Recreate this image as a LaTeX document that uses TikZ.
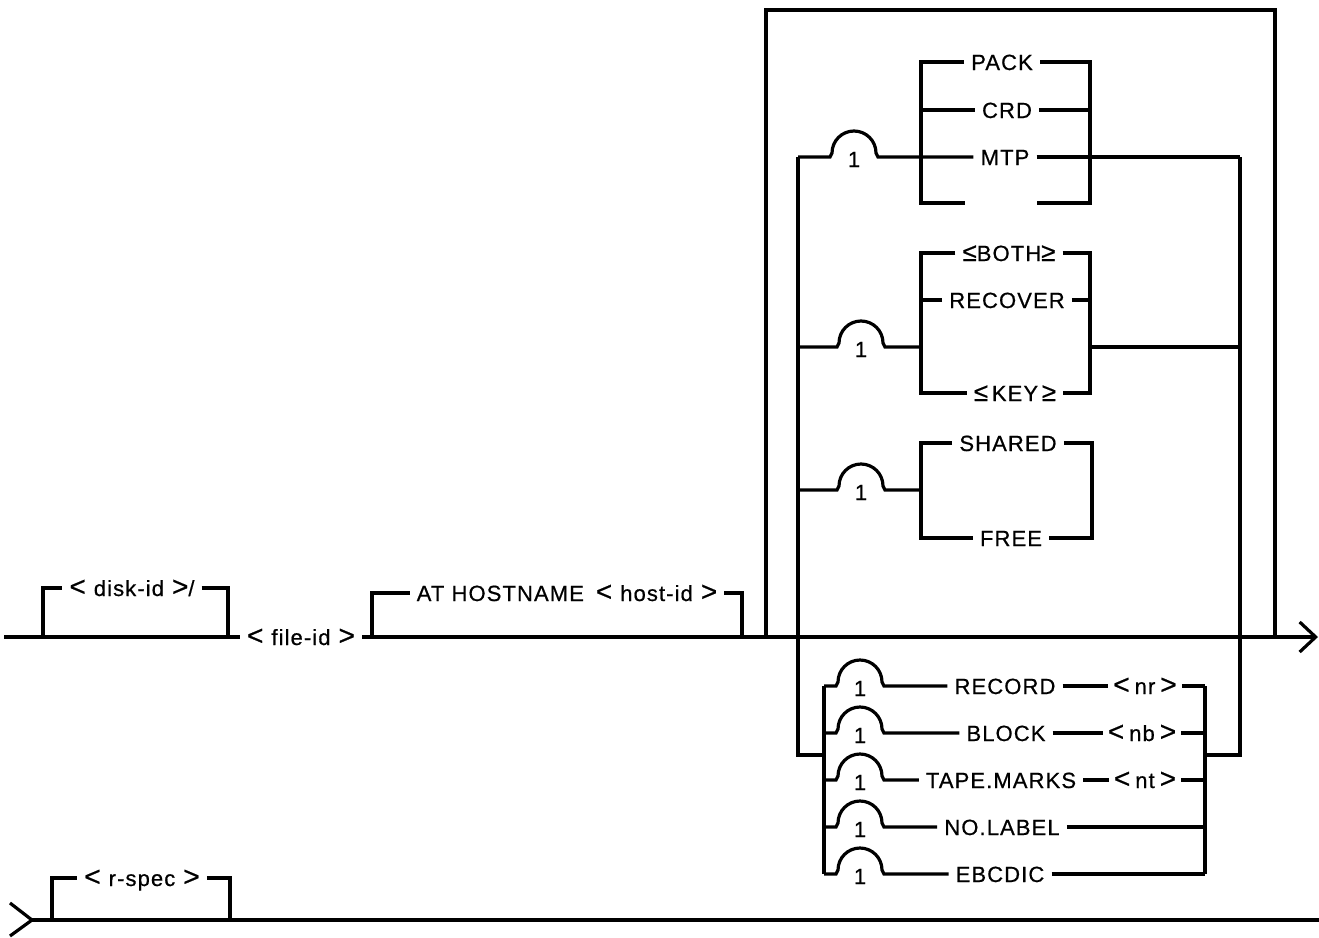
\documentclass[tikz,border=0pt]{standalone}
\usepackage{fontspec}
\setmainfont{Liberation Sans}[LetterSpace=5,FakeBold=0.6]
\usetikzlibrary{arrows.meta}
\newcommand{\railLT}{{\fontsize{28}{28}\selectfont<}}
\newcommand{\railGT}{{\fontsize{28}{28}\selectfont>}}
\newcommand{\railLE}{{\fontsize{26}{26}\selectfont≤}}
\newcommand{\railGE}{{\fontsize{26}{26}\selectfont≥}}
\newcommand{\railsp}{\hspace{8pt}}
\begin{document}
\begin{tikzpicture}[x=1pt,y=-1pt,
  rail/.style={line width=3.2pt,line join=miter},
  lbl/.style={inner xsep=7pt,inner ysep=0pt,text height=16pt,text depth=0pt,font=\fontsize{22}{26}\selectfont},
  idl/.style={lbl,font=\fontsize{22}{26}\selectfont},
  one/.style={inner sep=0pt,text height=16pt,text depth=0pt,font=\fontsize{22}{24}\selectfont},
  hump/.style={insert path={-- ++(2,-4) arc[start angle=180,end angle=0,radius=22pt] -- ++(2,4)}}]
\useasboundingbox (0,0) rectangle (1319,937);

% ---------- main line texts ----------
\node[idl] (disk) at (132,588) {\railLT\railsp disk-id\railsp\railGT/};
\node[idl] (fileid) at (301,637) {\railLT\railsp file-id\railsp\railGT};
\node[lbl] (host) at (567,593) {AT HOSTNAME\hspace{12pt}\railLT\railsp host-id\railsp\railGT};

% main line
\coordinate (mstart) at (4,637);
\coordinate (mend) at (1318,637);
\draw[rail] (mstart) -- (fileid.west);
\draw[rail,-{Straight Barb[length=16pt,width=30pt]}] (fileid.east) -- (mend);

% disk-id bracket
\coordinate (dk1) at (43,637); \coordinate (dk2) at (43,588);
\coordinate (dk3) at (228,588); \coordinate (dk4) at (228,637);
\draw[rail] (dk1) -- (dk2) -- (disk.west);
\draw[rail] (disk.east) -- (dk3) -- (dk4);

% host bracket
\coordinate (hs1) at (372,637); \coordinate (hs2) at (372,593);
\coordinate (hs3) at (742,593); \coordinate (hs4) at (742,637);
\draw[rail] (hs1) -- (hs2) -- (host.west);
\draw[rail] (host.east) -- (hs3) -- (hs4);

% outer repeat box
\coordinate (ob1) at (766,637); \coordinate (ob2) at (766,10);
\coordinate (ob3) at (1275,10); \coordinate (ob4) at (1275,637);
\draw[rail] (ob1) -- (ob2) -- (ob3) -- (ob4);

% inner loop
\coordinate (ll1) at (798,157); \coordinate (ll2) at (798,755); \coordinate (ll3) at (824,755);
\coordinate (lr1) at (1240,157); \coordinate (lr2) at (1240,755); \coordinate (lr3) at (1205,755);
\draw[rail] (ll1) -- (ll2) -- (ll3);
\draw[rail] (lr1) -- (lr2) -- (lr3);

% ---------- group 1 : PACK / CRD / MTP ----------
\node[lbl] (pack) at (1002,62) {PACK};
\node[lbl] (crd) at (1007,110) {CRD};
\node[lbl] (mtp) at (1005,157) {MTP};
\node[lbl,minimum width=72pt] (blank) at (1001,203) {};
\coordinate (p1) at (921,62); \coordinate (p2) at (921,203);
\coordinate (p3) at (1090,62); \coordinate (p4) at (1090,203);
\draw[rail] (pack.west) -- (p1) -- (p2) -- (blank.west);
\draw[rail] (pack.east) -- (p3) -- (p4) -- (blank.east);
\draw[rail] (crd.west) -- (crd.west -| p1);
\draw[rail] (crd.east) -- (crd.east -| p3);
\coordinate (h1s) at (830,157);
\node[one] (one1) at (854,159) {1};
\draw[rail] (ll1) -- (h1s) [hump] -- (mtp.west);
\draw[rail] (mtp.east) -- (lr1);

% ---------- group 2 : BOTH / RECOVER / KEY ----------
\node[lbl] (both) at (1009,253) {\railLE BOTH\railGE};
\node[lbl] (recover) at (1007,300) {RECOVER};
\node[lbl] (key) at (1015,393) {\railLE\,KEY\,\railGE};
\coordinate (q1) at (921,253); \coordinate (q2) at (921,393);
\coordinate (q3) at (1090,253); \coordinate (q4) at (1090,393);
\draw[rail] (both.west) -- (q1) -- (q2) -- (key.west);
\draw[rail] (both.east) -- (q3) -- (q4) -- (key.east);
\draw[rail] (recover.west) -- (recover.west -| q1);
\draw[rail] (recover.east) -- (recover.east -| q3);
\coordinate (r2l) at (798,347); \coordinate (h2s) at (837,347);
\coordinate (r2b) at (921,347); \coordinate (r2c) at (1090,347); \coordinate (r2r) at (1240,347);
\node[one] (one2) at (861,349) {1};
\draw[rail] (r2l) -- (h2s) [hump] -- (r2b);
\draw[rail] (r2c) -- (r2r);

% ---------- group 3 : SHARED / FREE ----------
\node[lbl] (shared) at (1008,443) {SHARED};
\node[lbl] (free) at (1011,538) {FREE};
\coordinate (s1) at (921,443); \coordinate (s2) at (921,538);
\coordinate (s3) at (1092,443); \coordinate (s4) at (1092,538);
\draw[rail] (shared.west) -- (s1) -- (s2) -- (free.west);
\draw[rail] (shared.east) -- (s3) -- (s4) -- (free.east);
\coordinate (r3l) at (798,490); \coordinate (h3s) at (837,490); \coordinate (r3b) at (921,490);
\node[one] (one3) at (861,492) {1};
\draw[rail] (r3l) -- (h3s) [hump] -- (r3b);

% ---------- lower group ----------
\node[lbl] (rec) at (1005,686) {RECORD};
\node[idl,inner xsep=5pt] (nr) at (1145,686) {\railLT\hspace{5pt}nr\hspace{5pt}\railGT};
\node[lbl] (blk) at (1006,733) {BLOCK};
\node[idl,inner xsep=5pt] (nb) at (1142,733) {\railLT\hspace{5pt}nb\hspace{5pt}\railGT};
\node[lbl] (tape) at (1001,780) {TAPE.MARKS};
\node[idl,inner xsep=5pt] (nt) at (1145,780) {\railLT\hspace{5pt}nt\hspace{5pt}\railGT};
\node[lbl] (nolab) at (1002,827) {NO.LABEL};
\node[lbl] (ebc) at (1000,874) {EBCDIC};
\coordinate (lb1) at (824,686); \coordinate (lb2) at (824,874);
\coordinate (rb1) at (1205,686); \coordinate (rb2) at (1205,874);
\draw[rail] (lb1) -- (lb2);
\draw[rail] (rb1) -- (rb2);
\foreach \nm/\yy/\first/\last in {a/686/rec/nr, b/733/blk/nb, c/780/tape/nt, d/827/nolab/nolab, e/874/ebc/ebc}{
  \coordinate (hl\nm) at (824,\yy);
  \coordinate (hs\nm) at (836,\yy);
  \coordinate (hr\nm) at (1205,\yy);
  \node[one] (one\nm) at (860,\yy+2) {1};
  \draw[rail] (hl\nm) -- (hs\nm) [hump] -- (\first.west);
  \draw[rail] (\last.east) -- (hr\nm);
}
\draw[rail] (rec.east) -- (nr.west);
\draw[rail] (blk.east) -- (nb.west);
\draw[rail] (tape.east) -- (nt.west);

% ---------- second line ----------
\node[idl] (rspec) at (142,878) {\railLT\railsp r-spec\railsp\railGT};
\coordinate (ch1) at (10,903); \coordinate (btip) at (32,920); \coordinate (ch2) at (10,936);
\coordinate (bend) at (1319,920);
\draw[rail] (ch1) -- (btip) -- (ch2);
\draw[rail] (btip) -- (bend);
\coordinate (rs1) at (52,920); \coordinate (rs2) at (52,878);
\coordinate (rs3) at (230,878); \coordinate (rs4) at (230,920);
\draw[rail] (rs1) -- (rs2) -- (rspec.west);
\draw[rail] (rspec.east) -- (rs3) -- (rs4);
\end{tikzpicture}
\end{document}
